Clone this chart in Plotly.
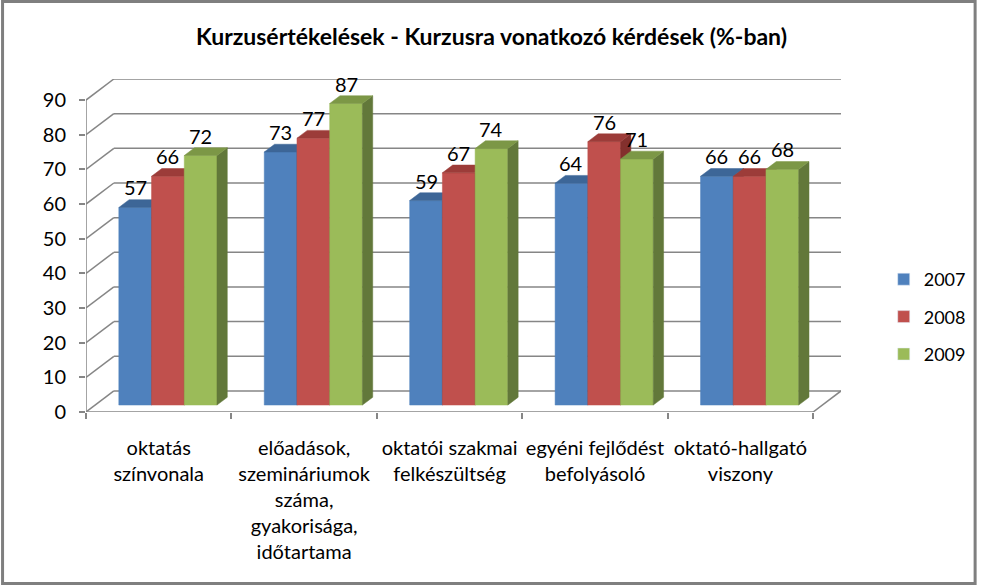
import plotly.graph_objects as go

# Survey results per course question (%)
categories = [
    "oktatás<br>színvonala",
    "előadások,<br>szemináriumok<br>száma,<br>gyakorisága,<br>időtartama",
    "oktatói szakmai<br>felkészültség",
    "egyéni fejlődést<br>befolyásoló",
    "oktató-hallgató<br>viszony",
]
years = ["2007", "2008", "2009"]
values_2007 = [57, 73, 59, 64, 66]
values_2008 = [66, 77, 67, 76, 66]
values_2009 = [72, 87, 74, 71, 68]
y_ticks = [0, 10, 20, 30, 40, 50, 60, 70, 80, 90]

series = [values_2007, values_2008, values_2009]
front_colors = ["#4F81BD", "#C0504D", "#9BBB59"]
top_colors = ["#3D6697", "#9C3C39", "#7C9746"]
side_colors = ["#30507A", "#83302D", "#62783A"]

# fake 3d: depth offsets in axis units
W, H = 983, 585
L, R, T, B = 86, 137, 79, 173
px_x = 146.2                       # pixels per category
px_y = 3.456                       # pixels per percent
DX = 28 / px_x
DY = 21 / px_y
Y_MAX = max(y_ticks)
bar_w = 0.225
f1, f2 = 0.33, 0.70                # bar front / back depth fractions
grid_col = "#868686"
FONT = "Lato, Open Sans, sans-serif"

fig = go.Figure()


def line(xs, ys):
    fig.add_trace(go.Scatter(x=xs, y=ys, mode="lines", line=dict(color=grid_col, width=1.5),
                             hoverinfo="skip", showlegend=False))


def poly(xs, ys, color):
    fig.add_trace(go.Scatter(x=xs + [xs[0]], y=ys + [ys[0]], mode="lines", fill="toself",
                             fillcolor=color, line=dict(color=color, width=0.5),
                             hoverinfo="skip", showlegend=False))


n = len(categories)
# walls and floor
for g in y_ticks:
    line([DX, n + DX], [g + DY, g + DY])
    line([0, DX], [g, g + DY])
line([0, 0], [0, Y_MAX])
line([0, n], [0, 0])
line([n, n + DX], [0, DY])

# bars, left to right so each one hides the previous side face
annotations = []
for i in range(n):
    for j, vals in enumerate(series):
        v = vals[i]
        c = i + 0.5 + (j - 1) * bar_w
        xl1, xr1 = c - bar_w / 2 + f1 * DX, c + bar_w / 2 + f1 * DX
        xl2, xr2 = xl1 + (f2 - f1) * DX, xr1 + (f2 - f1) * DX
        d1, d2 = f1 * DY, f2 * DY
        poly([xl1, xr1, xr1, xl1], [d1, d1, v + d1, v + d1], front_colors[j])
        poly([xr1, xr2, xr2, xr1], [d1, d2, v + d2, v + d1], side_colors[j])
        poly([xl1, xr1, xr2, xl2], [v + d1, v + d1, v + d2, v + d2], top_colors[j])
        annotations.append(dict(x=(xl1 + xr1) / 2, y=v + d1, xref="x", yref="y", text=str(v),
                                showarrow=False, yanchor="middle", yshift=20,
                                font=dict(family=FONT, size=20, color="black")))

# legend entries
for j, name in enumerate(years):
    fig.add_trace(go.Bar(x=[None], y=[None], name=name, marker_color=front_colors[j],
                         legendgroup=name))

fig.update_layout(
    width=W,
    height=H,
    margin=dict(l=L, r=R, t=T, b=B),
    paper_bgcolor="white",
    plot_bgcolor="white",
    font=dict(family=FONT, size=20, color="black"),
    title=dict(text="<b>Kurzusértékelések - Kurzusra vonatkozó kérdések (%-ban)</b>",
               x=0.5, xanchor="center", y=1 - 37 / H, yanchor="middle",
               font=dict(family=FONT, size=23, color="black")),
    xaxis=dict(range=[0, n + DX], showgrid=False, zeroline=False, showline=False,
               tickvals=[i + 0.5 for i in range(n)], ticktext=categories, ticks="",
               ticklabelstandoff=22, tickfont=dict(size=20),
               minor=dict(tickvals=list(range(n + 1)), ticks="outside", ticklen=6,
                          tickcolor=grid_col, tickwidth=1.5, showgrid=False)),
    yaxis=dict(range=[0, Y_MAX + DY], showgrid=False, zeroline=False, showline=False,
               tickvals=y_ticks, ticks="outside", ticklen=6, tickcolor=grid_col, tickwidth=1.5,
               ticklabelstandoff=9, tickfont=dict(size=20)),
    legend=dict(x=(889 - L) / (W - L - R), xanchor="left", y=(H - B - 261) / (H - T - B),
                yanchor="top", tracegroupgap=11, itemwidth=30, font=dict(size=18),
                bgcolor="rgba(0,0,0,0)"),
    annotations=annotations,
    showlegend=True,
)

# frame round the whole chart
pw, ph = W - L - R, H - T - B
fig.add_shape(type="rect", xref="paper", yref="paper",
              x0=-(L - 2) / pw, x1=1 + (R - 2) / pw, y0=-(B - 1.5) / ph, y1=1 + (T - 1.5) / ph,
              line=dict(color="#7F7F7F", width=3), layer="above")

fig.write_html("out.html", config={"displayModeBar": False},
               post_script="document.body.style.margin='0';document.body.style.overflow='hidden';")
